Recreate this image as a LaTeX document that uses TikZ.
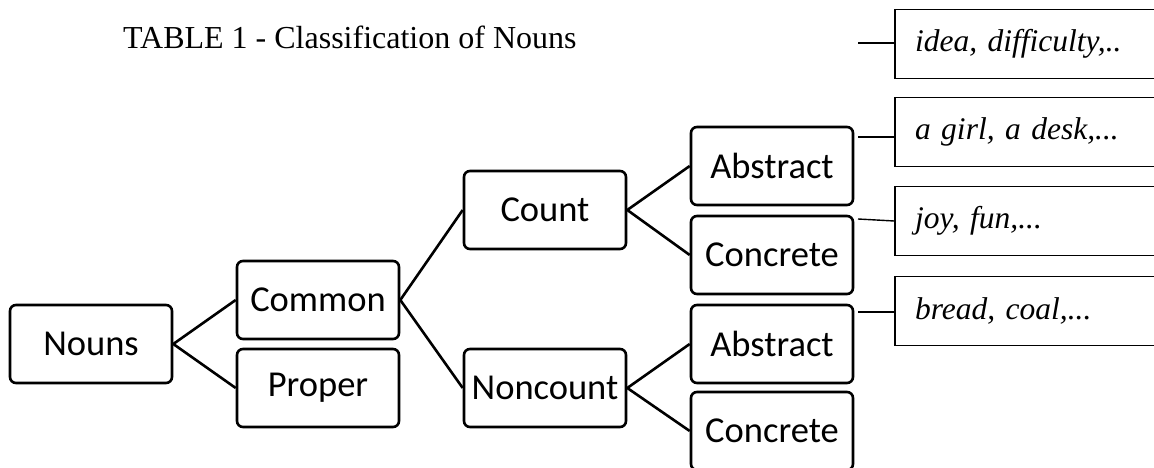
\documentclass[tikz,border=0pt]{standalone}
\usepackage{fontspec}
\setmainfont{Liberation Serif}
\newfontfamily\treefont{Carlito}
\usepackage{tikz}
\tikzstyle{category} = [rectangle, rounded corners=6pt, minimum width=162pt, minimum height=78pt, inner sep=2pt, text centered, draw=black, line width=2.6pt, font=\treefont\fontsize{36.5}{40}\selectfont]
\tikzstyle{example} = [rectangle, minimum height=69pt, text width=250pt, inner xsep=20pt, align=left, draw=black, line width=1.6pt, font=\itshape\fontsize{31.5}{36}\selectfont]
\tikzstyle{branch} = [line width=2.6pt]
\tikzstyle{link} = [line width=1.4pt]

\begin{document}
\begin{tikzpicture}[x=1pt, y=1pt, node distance=227pt]
\useasboundingbox (0,0) rectangle (1154,468);
\clip (0,0) rectangle (1154,468);
\node (Title) [anchor=base west, inner sep=0pt, font=\fontsize{32}{38}\selectfont] at (123,419) {TABLE 1 - Classification of Nouns};

\node (Nouns) [category] at (91,124) {Nouns};
\node (Common) [category, right of=Nouns, yshift=44pt] {Common};
\node (Proper) [category, right of=Nouns, yshift=-44pt] {Proper};
\node (Count) [category, right of=Common, yshift=90pt] {Count};
\node (Noncount) [category, right of=Common, yshift=-88pt] {Noncount};
\node (CountAbs) [category, right of=Count, yshift=44pt] {Abstract};
\node (CountCon) [category, right of=Count, yshift=-45pt] {Concrete};
\node (NonAbs) [category, right of=Noncount, yshift=44pt] {Abstract};
\node (NonCon) [category, right of=Noncount, yshift=-43pt] {Concrete};

\draw [branch] (Nouns.east) -- (Common.west);
\draw [branch] (Nouns.east) -- (Proper.west);
\draw [branch] (Common.east) -- (Count.west);
\draw [branch] (Common.east) -- (Noncount.west);
\draw [branch] (Count.east) -- (CountAbs.west);
\draw [branch] (Count.east) -- (CountCon.west);
\draw [branch] (Noncount.east) -- (NonAbs.west);
\draw [branch] (Noncount.east) -- (NonCon.west);

% examples on the right
\node (Idea) [example] at (1040,424) {idea, difficulty,..};
\node (Girl) [example, node distance=88pt, below of=Idea] {a girl, a desk,...};
\node (Joy) [example, node distance=89pt, below of=Girl] {joy, fun,...};
\node (Bread) [example, node distance=90pt, below of=Joy] {bread, coal,...};

\coordinate (IdeaEnd) at (858,425);
\coordinate (GirlEnd) at (858,331);
\coordinate (JoyEnd) at (858,249);
\coordinate (BreadEnd) at (858,156);
\draw [link] (IdeaEnd) -- (IdeaEnd -| Idea.west);
\draw [link] (GirlEnd) -- (GirlEnd -| Girl.west);
\draw [link] (JoyEnd) -- (Joy.west);
\draw [link] (BreadEnd) -- (BreadEnd -| Bread.west);
\end{tikzpicture}
\end{document}
